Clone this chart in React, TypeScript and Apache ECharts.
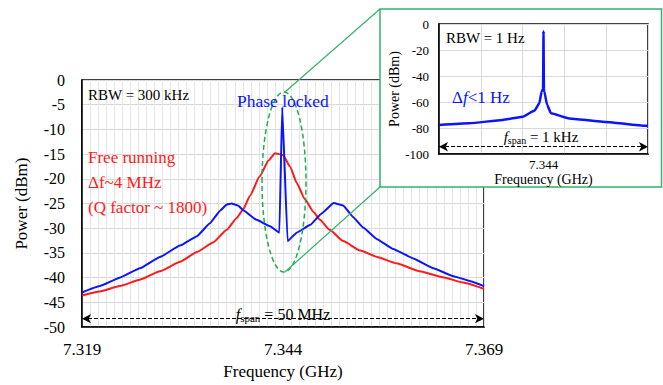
import React, { useEffect, useRef } from "react";
import * as echarts from "echarts";

// ---------- Data ----------
// Main chart: offset from 7.344 GHz in MHz, power in dBm
const freeOffsetMHz = [-25, -22.8, -20.3, -17.8, -15.3, -12.8, -10.7, -8.7, -7.0, -5.8, -5.0, -4.1, -2.9, -1.8, -1.0, 0.0, 0.9, 1.7, 2.7, 3.8, 4.6, 5.8, 7.5, 9.6, 11.7, 14.1, 17.0, 19.9, 22.4, 25];
const freePower = [-43.6, -42.8, -41.7, -40.4, -38.7, -36.8, -34.8, -32.9, -30.3, -28.0, -26.3, -23.4, -19.5, -16.3, -14.8, -15.2, -17.6, -20.8, -24.1, -26.7, -28.3, -30.3, -32.6, -34.5, -35.8, -37.1, -38.7, -39.9, -41.0, -42.3];

const lockedOffsetMHz = [-25, -22.8, -20.3, -17.8, -15.3, -12.8, -10.7, -9.1, -7.8, -7.0, -6.4, -5.6, -4.9, -3.3, -1.6, -0.45, -0.1, 0.57, 1.7, 3.4, 4.8, 6.3, 7.5, 8.7, 10.0, 11.7, 13.7, 16.2, 18.7, 21.2, 23.3, 25];
const lockedPower = [-43.0, -41.7, -40.0, -38.1, -35.8, -33.5, -31.6, -29.0, -26.4, -25.2, -25.0, -25.4, -26.4, -28.3, -29.6, -30.9, -5.5, -32.6, -30.9, -29.3, -27.0, -24.9, -25.4, -27.7, -29.9, -32.2, -34.2, -36.1, -38.1, -39.7, -40.7, -41.7];

// Inset: offset from 7.344 GHz in Hz, power in dBm
const insetOffsetHz = [-500, -355, -195, -100, -44, -20, -9, -2, 0, 2, 4, 17, 36, 123, 283, 490, 500];
const insetPower = [-77.7, -76.4, -73.8, -71.3, -66.7, -61.0, -52.0, -50.0, -5.5, -50.0, -52.0, -62.0, -68.7, -72.6, -75.1, -78.3, -78.5];

// Tick labels
const mainXTickValues = [-25, 0, 25];
const mainXTickLabels = ["7.319", "7.344", "7.369"];
const insetXTickValues = [0];
const insetXTickLabels = ["7.344"];

const FONT = "Liberation Serif";
const GREEN = "#33b36b";
const BLUE = "#0a14ff";
const RED = "#ff1a1a";

const pairs = (xs: number[], ys: number[]) => xs.map((x, i) => [x, ys[i]]);
const fmt = (vals: number[], labels: string[]) => (v: number) => {
  const i = vals.indexOf(v);
  return i >= 0 ? labels[i] : "";
};

export default function App() {
  const ref = useRef<HTMLDivElement>(null);
  useEffect(() => {
    if (!ref.current) return;
    const chart = echarts.init(ref.current, null, { renderer: "svg" });
    const option: any = {
      animation: false,
      backgroundColor: "#fff",
      textStyle: { fontFamily: FONT },
      grid: [
        { left: 82, top: 80, width: 402, height: 256, show: true, borderColor: "#000", borderWidth: 1.5, z: 0 },
        { left: 439, top: 24, width: 209, height: 130, show: true, borderColor: "#000", borderWidth: 1.5, backgroundColor: "#fff", z: 6 },
      ],
      xAxis: [
        {
          type: "value", gridIndex: 0, min: -25, max: 25, interval: 1,
          axisLine: { show: true, onZero: false, lineStyle: { color: "#000", width: 1.5 } },
          axisTick: { show: false },
          axisLabel: { customValues: mainXTickValues, formatter: fmt(mainXTickValues, mainXTickLabels), fontSize: 17, color: "#000", fontFamily: FONT, margin: 14 },
          splitLine: { show: true, lineStyle: { color: "#e4e4e4", width: 1 } },
          name: "Frequency (GHz)", nameLocation: "middle", nameGap: 35,
          nameTextStyle: { fontSize: 17, color: "#000", fontFamily: FONT },
        },
        {
          type: "value", gridIndex: 1, min: -500, max: 500, interval: 200, z: 7,
          axisLine: { show: true, onZero: false, lineStyle: { color: "#000", width: 1.5 } },
          axisTick: { show: false },
          axisLabel: { customValues: insetXTickValues, formatter: fmt(insetXTickValues, insetXTickLabels), fontSize: 13, color: "#000", fontFamily: FONT, margin: 4 },
          splitLine: { show: true, lineStyle: { color: "#d9d9d9", width: 1 } },
          name: "Frequency (GHz)", nameLocation: "middle", nameGap: 18,
          nameTextStyle: { fontSize: 14, color: "#000", fontFamily: FONT },
        },
      ],
      yAxis: [
        {
          type: "value", gridIndex: 0, min: -50, max: 0, interval: 5,
          axisLine: { show: true, onZero: false, lineStyle: { color: "#000", width: 1.5 } },
          axisTick: { show: false },
          axisLabel: { fontSize: 16, color: "#000", fontFamily: FONT, margin: 17 },
          splitLine: { show: true, lineStyle: { color: "#d9d9d9", width: 1 } },
          name: "Power (dBm)", nameLocation: "middle", nameGap: 52,
          nameTextStyle: { fontSize: 17, color: "#000", fontFamily: FONT },
        },
        {
          type: "value", gridIndex: 1, min: -100, max: 0, interval: 20, z: 7,
          axisLine: { show: true, onZero: false, lineStyle: { color: "#000", width: 1.5 } },
          axisTick: { show: false },
          axisLabel: { fontSize: 13, color: "#000", fontFamily: FONT, margin: 10 },
          splitLine: { show: true, lineStyle: { color: "#d9d9d9", width: 1 } },
          name: "Power (dBm)", nameLocation: "middle", nameGap: 38,
          nameTextStyle: { fontSize: 14, color: "#000", fontFamily: FONT },
        },
      ],
      series: [
        {
          type: "line", name: "Free running", xAxisIndex: 0, yAxisIndex: 0, z: 2,
          data: pairs(freeOffsetMHz, freePower), showSymbol: false, smooth: 0.15, smoothMonotone: "x",
          lineStyle: { color: RED, width: 2 },
          markLine: {
            silent: true, symbol: ["arrow", "arrow"], symbolSize: [7, 9],
            lineStyle: { type: "dashed", color: "#000", width: 1 }, label: { show: false },
            data: [[{ coord: [-25, -48.3] }, { coord: [25, -48.3] }]],
          },
        },
        {
          type: "line", name: "Phase locked", xAxisIndex: 0, yAxisIndex: 0, z: 2,
          data: pairs(lockedOffsetMHz, lockedPower), showSymbol: false, smooth: 0.1, smoothMonotone: "x",
          lineStyle: { color: BLUE, width: 2 },
        },
        {
          type: "line", name: "Inset", xAxisIndex: 1, yAxisIndex: 1, z: 8,
          data: pairs(insetOffsetHz, insetPower), showSymbol: false, smooth: 0.15, smoothMonotone: "x",
          lineStyle: { color: BLUE, width: 2.5 },
          markLine: {
            silent: true, symbol: ["arrow", "arrow"], symbolSize: [7, 9], z: 8,
            lineStyle: { type: "dashed", color: "#000", width: 1 }, label: { show: false },
            data: [[{ coord: [-500, -94.4] }, { coord: [500, -94.4] }]],
          },
        },
      ],
      graphic: [
        { type: "ellipse", z: 3, shape: { cx: 284, cy: 182, rx: 22, ry: 90 }, style: { fill: "none", stroke: "#1fae4a", lineWidth: 1.5, lineDash: [5, 3] } },
        { type: "line", z: 3, shape: { x1: 285, y1: 92, x2: 380, y2: 9 }, style: { stroke: GREEN, lineWidth: 1.2 } },
        { type: "line", z: 3, shape: { x1: 285, y1: 272, x2: 380, y2: 187 }, style: { stroke: GREEN, lineWidth: 1.2 } },
        { type: "rect", z: 5, shape: { x: 380, y: 9, width: 281.5, height: 178 }, style: { fill: "#fff", stroke: GREEN, lineWidth: 1.5 } },
        { type: "text", z: 4, x: 88, y: 95, style: { text: "RBW = 300 kHz", fontSize: 15, fontFamily: FONT, fill: "#000", verticalAlign: "middle" } },
        { type: "text", z: 4, x: 237, y: 101, style: { text: "Phase locked", fontSize: 17.5, fontFamily: FONT, fill: BLUE, verticalAlign: "middle" } },
        { type: "text", z: 4, x: 88, y: 157, style: { text: "Free running", fontSize: 17, fontFamily: FONT, fill: RED, verticalAlign: "middle" } },
        { type: "text", z: 4, x: 88, y: 182, style: { text: "Δf~4 MHz", fontSize: 17, fontFamily: FONT, fill: RED, verticalAlign: "middle" } },
        { type: "text", z: 4, x: 88, y: 207, style: { text: "(Q factor ~ 1800)", fontSize: 17, fontFamily: FONT, fill: RED, verticalAlign: "middle" } },
        {
          type: "text", z: 4, x: 283, y: 314,
          style: {
            text: "{i|f}{s|span}{n| = 50 MHz}", align: "center", verticalAlign: "middle", fill: "#000",
            rich: {
              i: { fontSize: 16, fontStyle: "italic", fontFamily: FONT },
              s: { fontSize: 11, fontFamily: FONT, padding: [8, 0, 0, 0] },
              n: { fontSize: 16, fontFamily: FONT },
            },
          },
        },
        { type: "text", z: 9, x: 446, y: 38, style: { text: "RBW = 1 Hz", fontSize: 15, fontFamily: FONT, fill: "#000", verticalAlign: "middle" } },
        {
          type: "text", z: 9, x: 452, y: 97,
          style: {
            text: "{n|Δ}{i|f}{n|<1 Hz}", verticalAlign: "middle", fill: BLUE,
            rich: {
              i: { fontSize: 17, fontStyle: "italic", fontFamily: FONT, fill: BLUE },
              n: { fontSize: 17, fontFamily: FONT, fill: BLUE },
            },
          },
        },
        {
          type: "text", z: 9, x: 541, y: 137,
          style: {
            text: "{i|f}{s|span}{n| = 1 kHz}", align: "center", verticalAlign: "middle", fill: "#000",
            rich: {
              i: { fontSize: 15, fontStyle: "italic", fontFamily: FONT },
              s: { fontSize: 10, fontFamily: FONT, padding: [7, 0, 0, 0] },
              n: { fontSize: 15, fontFamily: FONT },
            },
          },
        },
      ],
    };
    chart.setOption(option);
    return () => chart.dispose();
  }, []);
  return <div ref={ref} style={{ position: "fixed", left: 0, top: 0, width: 663, height: 385 }} />;
}
